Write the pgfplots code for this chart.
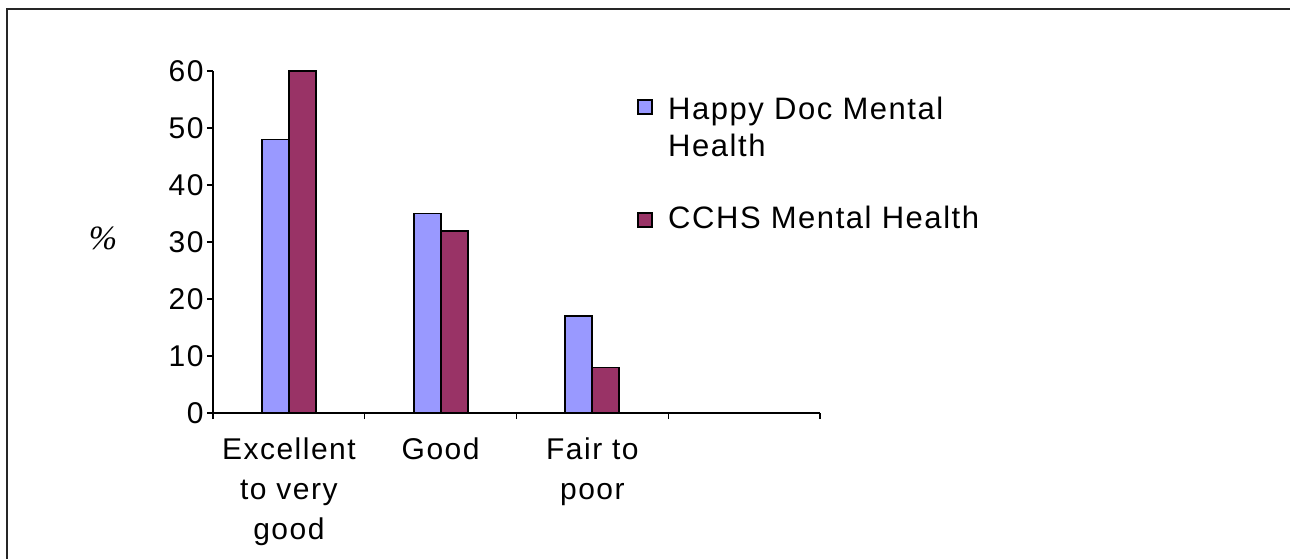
\documentclass[border=0pt]{standalone}
\usepackage{fontspec}
\setmainfont{Liberation Sans}[LetterSpace=5]
\newfontfamily\serifit{Liberation Serif}
\usepackage{pgfplots}
\pgfplotsset{compat=1.18}
\definecolor{hdblue}{HTML}{9999FF}
\definecolor{cchsred}{HTML}{993366}
\begin{document}
\begin{tikzpicture}[x=1pt,y=1pt]
\path[use as bounding box] (-213,-146) rectangle (1077,413);
\draw[line width=2pt,black!85] (-205.5,-170) -- (-205.5,403.5) -- (1100,403.5);
\begin{axis}[
  at={(0,0)}, anchor=south west,
  scale only axis, width=607pt, height=342pt,
  xmin=-0.5, xmax=3.5, ymin=0, ymax=60,
  axis lines*=left,
  axis line style={line width=1.6pt},
  ytick={0,10,...,60},
  xtick={0,1,2,3},
  xticklabels={{Excellent\\to very\\good},{Good},{Fair to\\poor},{}},
  minor xtick={-0.5,0.5,1.5,2.5,3.5},
  major x tick style={draw=none},
  tick align=outside,
  major tick length=6pt, minor tick length=6pt,
  tick style={line width=1.4pt, black},
  ticklabel style={font=\fontsize{30}{40}\selectfont},
  /pgf/number format/assume math mode=true,
  xticklabel style={align=center, anchor=north, yshift=-15pt},
  yticklabel style={xshift=0pt},
  every axis y label/.style={at={(axis description cs:-0.181,0.51)}, anchor=center},
  ylabel={\serifit\itshape\fontsize{34}{34}\selectfont\%},
  ybar=0pt, bar width=27pt,
  clip=false,
]
\addplot[fill=hdblue, draw=black, line width=1.8pt] coordinates {(0,48) (1,35) (2,17)};
\addplot[fill=cchsred, draw=black, line width=1.8pt] coordinates {(0,60) (1,32) (2,8)};
\end{axis}
\filldraw[fill=hdblue, draw=black, line width=1.4pt] (425,299) rectangle (439,313);
\node[anchor=north west, align=left, font=\fontsize{31}{37}\selectfont, inner sep=0pt] at (455,316) {Happy Doc Mental\\Health};
\filldraw[fill=cchsred, draw=black, line width=1.4pt] (425,186) rectangle (439,200);
\node[anchor=base west, font=\fontsize{31}{37}\selectfont, inner sep=0pt] at (455,184) {CCHS Mental Health};
\end{tikzpicture}
\end{document}
